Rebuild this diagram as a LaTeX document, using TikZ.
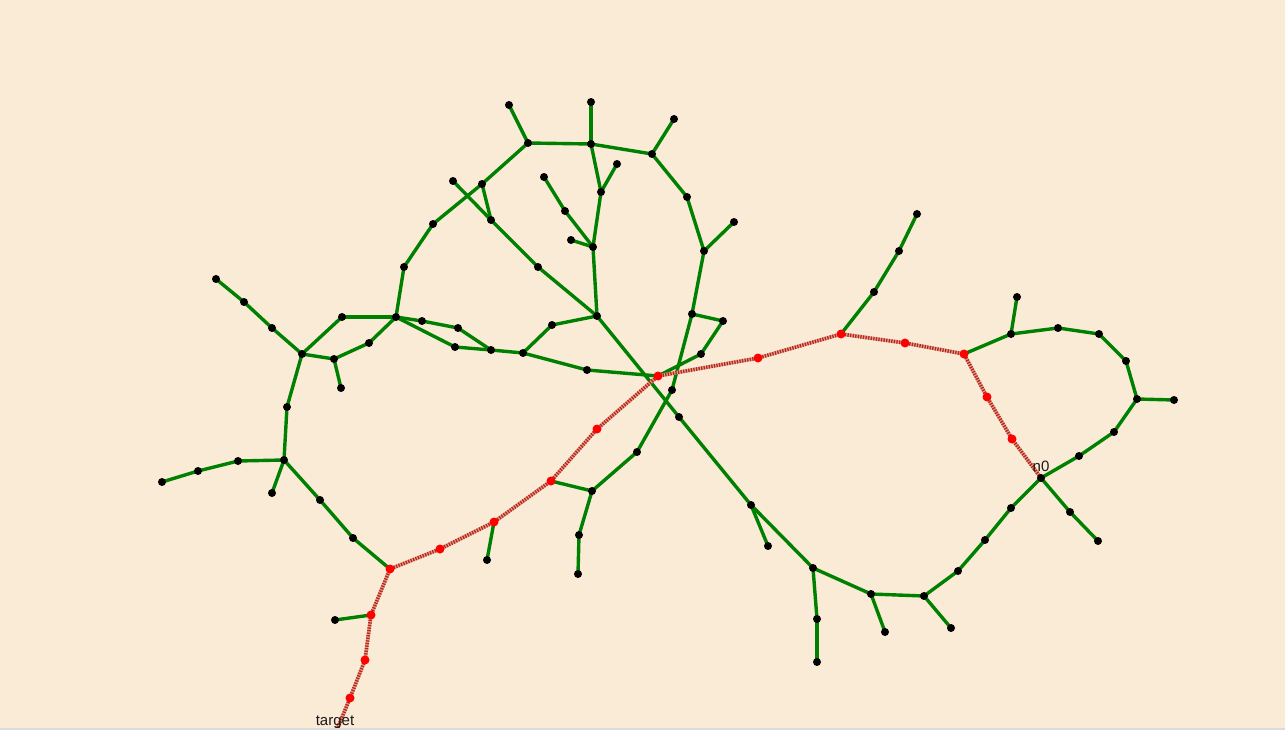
\documentclass[tikz,border=0pt]{standalone}
\usepackage{fontspec}
\setmainfont{Liberation Sans}
\begin{document}
\begin{tikzpicture}[x=1pt,y=-1pt,
  bdot/.style={circle,fill=black,inner sep=0pt,minimum size=8pt},
  rdot/.style={circle,fill=red,inner sep=0pt,minimum size=9pt},
  gedge/.style={draw={rgb,255:red,0;green,128;blue,0},line width=3.4pt},
  rbase/.style={draw={rgb,255:red,232;green,160;blue,140},line width=3.6pt},
  redge/.style={draw={rgb,255:red,178;green,40;blue,30},line width=3.6pt,dash pattern=on 1.3pt off 1.3pt},
  lbl/.style={font=\fontsize{15}{15}\selectfont,inner sep=0pt,text=black!90}]
\definecolor{bgc}{RGB}{250,235,215}
\definecolor{stripc}{RGB}{216,219,223}
\useasboundingbox (0,0) rectangle (1285,730);
\fill[bgc] (0,0) rectangle (1285,730);
% black nodes
\foreach \n/\x/\y in {A1/453/181,B/482/184,C/491/220,D/433/224,E/404/267,F/216/279,G/244/302,H/272/328,
 I/342/317,J/396/317,K/422/321,L/458/328,M1/509/105,M/528/143,N1/591/102,N/591/144,O/652/154,O1/674/119,
 P1/544/177,P2/565/211,Q/593/247,Q1/571/240,R/601/192,R1/617/164,S/687/197,T/704/251,T1/734/222,
 U/538/267,V/597/316,W/692/314,W1/723/321,X/552/325,Y/523/353,Z/491/350,AA/587/370,BB/679/417,
 CC/751/505,CC1/768/546,DD/672/390,EE/637/452,FF/592/491,GG/579/535,HH/578/574,II/701/354,
 KK/302/354,MM/455/347,NN/334/359,OO/369/343,PP/341/388,QQ/287/407,RR/284/460,SS/238/461,
 TT/198/471,UU/162/482,VV/272/493,WW/320/500,XX/353/538,G4/487/560,G5/335/620,
 A2/917/214,B2/899/251,C2/874/292,D2/1011/334,D3/1017/297,E2/1058/328,F2/1099/334,G2/1126/361,
 H2/1137/399,H3/1174/400,I2/1114/432,J2/1079/456,n0/1041/478,K2/1070/512,L2/1098/541,
 M2/1011/508,N2/985/540,O2/958/571,PB/924/596,P3/951/628,Q2/871/594,Q3/885/632,
 S2/813/568,S3/817/619,S4/817/662}
  {\coordinate (\n) at (\x,\y);}
% red nodes
\foreach \n/\x/\y in {RC/658/376,R6/758/358,RF/841/334,R7/905/343,RG/964/354,R8/987/397,R9/1012/439,
 R2/597/429,RD/551/481,R4/494/522,R5/440/549,RE/390/569,R10/371/615,R11/365/660,R12/350/698,tgt/336/732}
  {\coordinate (\n) at (\x,\y);}
% green edges
\foreach \a/\b in {A1/C,C/U,U/V,B/C,D/B,B/M,M1/M,M/N,N1/N,N/O,O/O1,O/S,S/T,T/T1,T/W,W/DD,DD/EE,EE/FF,
 FF/RD,FF/GG,GG/HH,W/W1,W1/II,II/RC,N/R,R/R1,R/Q,P1/P2,P2/Q,Q1/Q,Q/V,V/X,X/Y,Y/Z,Y/AA,AA/RC,V/BB,
 BB/CC,CC/CC1,CC/S2,S2/S3,S3/S4,S2/Q2,Q2/Q3,Q2/PB,PB/P3,PB/O2,O2/N2,N2/M2,M2/n0,n0/K2,K2/L2,n0/J2,
 J2/I2,I2/H2,H2/H3,H2/G2,G2/F2,F2/E2,E2/D2,D2/D3,D2/RG,RF/C2,C2/B2,B2/A2,F/G,G/H,H/KK,KK/I,I/J,J/E,
 E/D,KK/NN,NN/OO,OO/J,NN/PP,J/K,K/L,L/Z,J/MM,MM/Z,KK/QQ,QQ/RR,RR/SS,SS/TT,TT/UU,RR/VV,RR/WW,WW/XX,
 XX/RE,R4/G4,R10/G5}
  {\path[gedge] (\a) -- (\b);}
% red path
\path[rbase] (tgt) -- (R12) -- (R11) -- (R10) -- (RE) -- (R5) -- (R4) -- (RD) -- (R2) -- (RC) -- (R6) -- (RF) -- (R7) -- (RG) -- (R8) -- (R9) -- (n0);
\path[redge] (tgt) -- (R12) -- (R11) -- (R10) -- (RE) -- (R5) -- (R4) -- (RD) -- (R2) -- (RC) -- (R6) -- (RF) -- (R7) -- (RG) -- (R8) -- (R9) -- (n0);
% dots
\foreach \n in {A1,B,C,D,E,F,G,H,I,J,K,L,M1,M,N1,N,O,O1,P1,P2,Q,Q1,R,R1,S,T,T1,U,V,W,W1,X,Y,Z,AA,BB,
 CC,CC1,DD,EE,FF,GG,HH,II,KK,MM,NN,OO,PP,QQ,RR,SS,TT,UU,VV,WW,XX,G4,G5,A2,B2,C2,D2,D3,E2,F2,G2,H2,H3,
 I2,J2,n0,K2,L2,M2,N2,O2,PB,P3,Q2,Q3,S2,S3,S4}
  {\node[bdot] (d\n) at (\n) {};}
\foreach \n in {RC,R6,RF,R7,RG,R8,R9,R2,RD,R4,R5,RE,R10,R11,R12,tgt}
  {\node[rdot] (d\n) at (\n) {};}
% labels
\node[lbl] (n0lbl) at ([yshift=12pt]n0) {n0};
\node[lbl] (tgtlbl) at ([xshift=-1pt,yshift=10pt]tgt) {target};
\fill[stripc] (0,727.5) rectangle (1285,730);
\end{tikzpicture}
\end{document}
